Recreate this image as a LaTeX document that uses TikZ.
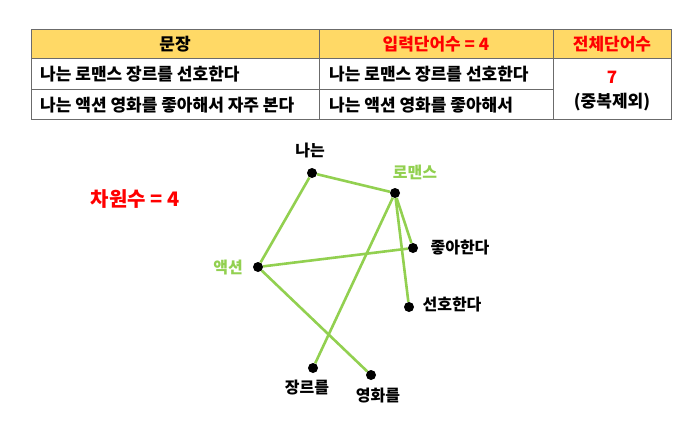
\documentclass[tikz,border=0pt]{standalone}
\usepackage{fontspec}
\setmainfont{Noto Sans CJK KR}
\definecolor{hdr}{HTML}{FFD966}
\definecolor{rd}{HTML}{FF0000}
\definecolor{gr}{HTML}{92D050}
\definecolor{bd}{HTML}{6B6B6B}
\tikzset{
  grid/.style={draw=bd, line width=0.9pt},
  cell/.style={font=\fontsize{17}{19}\selectfont\bfseries, inner sep=0pt},
  hcell/.style={cell},
  dot/.style={circle, fill=black, inner sep=0pt, minimum size=10pt},
  edge/.style={draw=gr, line width=2.6pt},
  lbl/.style={font=\fontsize{16}{18}\selectfont\bfseries, inner sep=1pt},
}
\begin{document}
\begin{tikzpicture}[x=1pt,y=-1pt]
\useasboundingbox (0,0) rectangle (697,434);
% table
\fill[hdr] (31,29) rectangle (671,58);
\draw[grid] (31,29) rectangle (671,119);
\draw[grid] (31,58) -- (671,58);
\draw[grid] (31,89) -- (553,89);
\draw[grid] (319,29) -- (319,119);
\draw[grid] (553,29) -- (553,119);
\node[hcell] (h1) at (175,44) {문장};
\node[hcell, text=rd] (h2) at (436,44) {입력단어수 = 4};
\node[hcell, text=rd] (h3) at (612,44) {전체단어수};
\node[cell, anchor=west] (a1) at (40,74) {나는 로맨스 장르를 선호한다};
\node[cell, anchor=west] (a2) at (40,105) {나는 액션 영화를 좋아해서 자주 본다};
\node[cell, anchor=west] (b1) at (329,74) {나는 로맨스 장르를 선호한다};
\node[cell, anchor=west] (b2) at (329,105) {나는 액션 영화를 좋아해서};
\node[cell, text=rd] (c1) at (612,77) {7};
\node[cell] (c2) at (612,102) {(중복제외)};
% dimension label
\node[font=\fontsize{20}{22}\selectfont\bfseries, text=rd] (dim) at (135,199) {차원수 = 4};
% graph
\node[dot] (na) at (312,173) {};
\node[dot] (ro) at (395,193) {};
\node[dot] (jo) at (413,248) {};
\node[dot] (se) at (409,307) {};
\node[dot] (ac) at (258,267) {};
\node[dot] (ja) at (313,368) {};
\node[dot] (yo) at (371,375) {};
\draw[edge] (na) -- (ro);
\draw[edge] (na) -- (ac);
\draw[edge] (ro) -- (jo);
\draw[edge] (ro) -- (se);
\draw[edge] (ro) -- (ja);
\draw[edge] (ac) -- (jo);
\draw[edge] (ac) -- (yo);
\node[lbl] (lna) at (310,150) {나는};
\node[lbl, text=gr] (lro) at (415,172) {로맨스};
\node[lbl] (ljo) at (460,248) {좋아한다};
\node[lbl] (lse) at (452,305) {선호한다};
\node[lbl, text=gr] (lac) at (228,268) {액션};
\node[lbl] (lja) at (307,388) {장르를};
\node[lbl] (lyo) at (378,396) {영화를};
\end{tikzpicture}
\end{document}
